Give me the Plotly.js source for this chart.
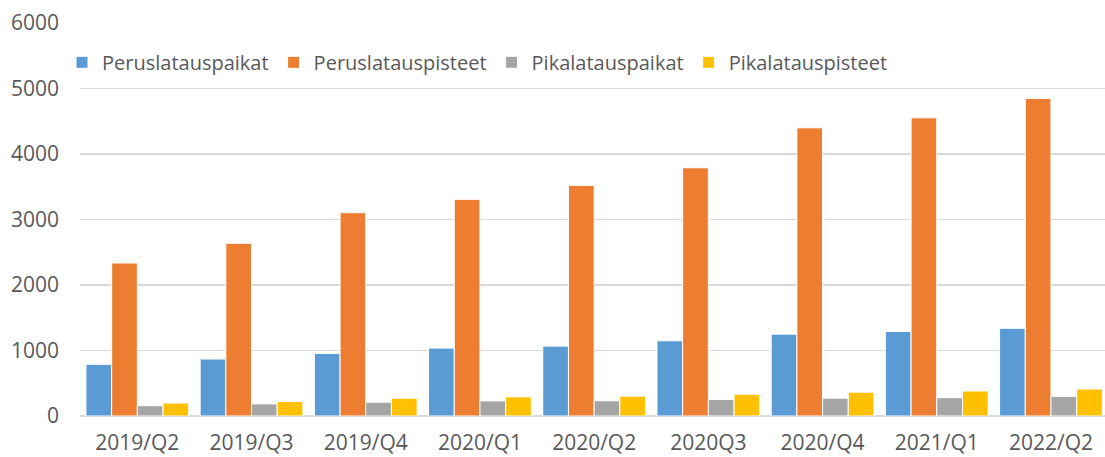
<!DOCTYPE html>
<html>
<head>
<meta charset="utf-8">
<script src="https://cdn.plot.ly/plotly-3.0.1.min.js"></script>
<style>html,body{margin:0;padding:0;background:#fff;}#chart{width:1105px;height:457px;}</style>
</head>
<body>
<div id="chart"></div>
<script>
const categories = ["2019/Q2","2019/Q3","2019/Q4","2020/Q1","2020/Q2","2020Q3","2020/Q4","2021/Q1","2022/Q2"];
const seriesNames = ["Peruslatauspaikat","Peruslatauspisteet","Pikalatauspaikat","Pikalatauspisteet"];
const peruslatauspaikat = [789, 870, 954, 1037, 1067, 1148, 1250, 1290, 1339];
const peruslatauspisteet = [2336, 2637, 3104, 3308, 3521, 3790, 4400, 4552, 4848];
const pikalatauspaikat = [157, 185, 211, 231, 233, 251, 272, 280, 300];
const pikalatauspisteet = [198, 221, 272, 292, 303, 333, 364, 382, 412];
const colors = ["#5B9BD5","#ED7D31","#A5A5A5","#FFC000"];
const values = [peruslatauspaikat, peruslatauspisteet, pikalatauspaikat, pikalatauspisteet];

const traces = values.map((v,i)=>({
  type:"bar", name:seriesNames[i], x:categories, y:v,
  marker:{color:colors[i], line:{color:"#ffffff", width:1}},
  hoverinfo:"y"
}));

const fam = "Open Sans, Noto Sans, sans-serif";
const layout = {
  width:1105, height:457,
  margin:{l:80, r:0, t:23, b:41},
  paper_bgcolor:"#fff", plot_bgcolor:"#fff",
  barmode:"group", bargap:0.1, bargroupgap:0,
  font:{family:fam, size:20, color:"#595959"},
  showlegend:true,
  legend:{orientation:"h", x:0.7932, xanchor:"right", y:0.9, yanchor:"middle",
    font:{family:fam, size:20, color:"#595959"}, itemwidth:30, tracegroupgap:0,
    bgcolor:"rgba(0,0,0,0)"},
  xaxis:{type:"category", range:[-0.502, 8.473], showgrid:false, zeroline:false, showline:false,
    ticks:"", tickfont:{family:fam,size:21,color:"#595959"}, ticklabelstandoff:12},
  yaxis:{range:[0,6000], dtick:1000, showgrid:true, gridcolor:"#D9D9D9", gridwidth:1.5,
    zeroline:true, zerolinecolor:"#D9D9D9", zerolinewidth:1.5, showline:false, ticks:"",
    tickfont:{family:fam,size:21,color:"#595959"}, ticklabelstandoff:20}
};
Plotly.newPlot("chart", traces, layout, {displayModeBar:false, staticPlot:true});
</script>
</body>
</html>
